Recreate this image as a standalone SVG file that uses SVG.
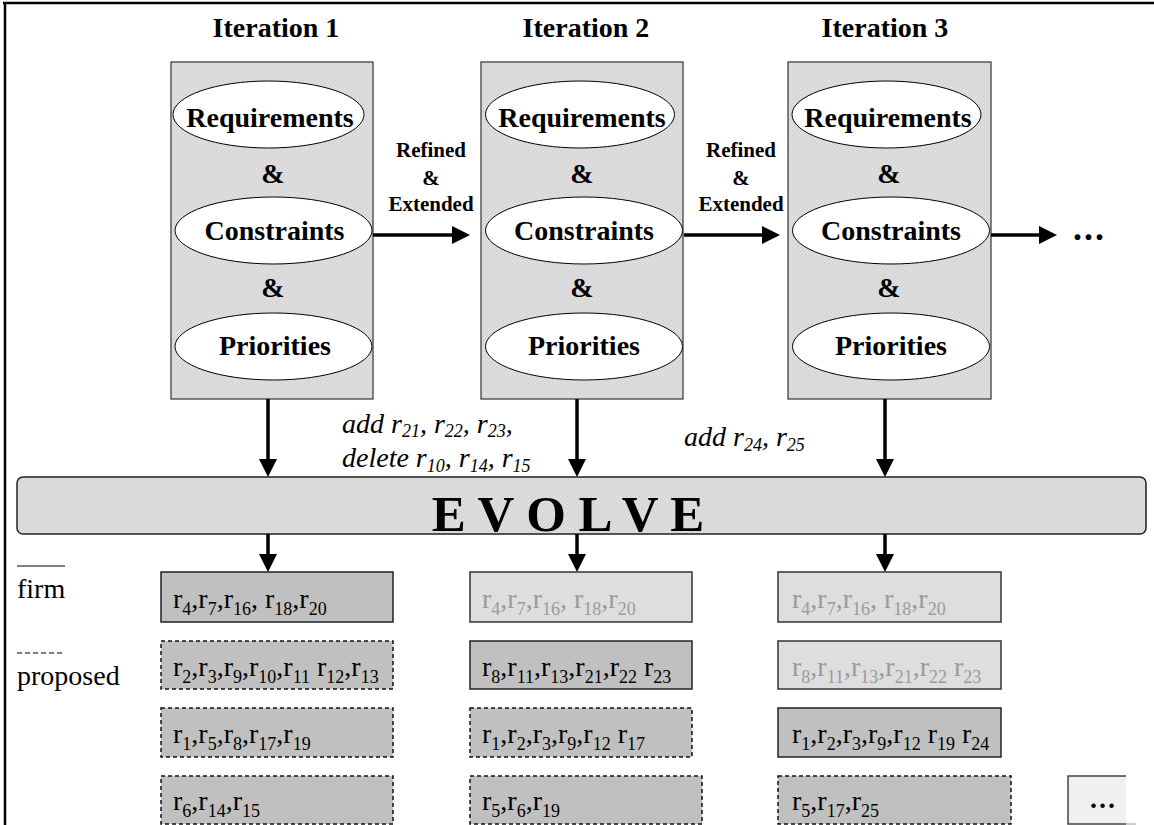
<svg xmlns="http://www.w3.org/2000/svg" width="1154" height="825" viewBox="0 0 1154 825">
<style>
text{font-family:"Liberation Serif","Times New Roman",serif;fill:#000}
.b{font-family:"Liberation Serif","Times New Roman",serif;font-weight:bold}
.it{font-family:"Liberation Serif","Times New Roman",serif;font-size:28px;font-weight:bold;text-anchor:middle}
.el{font-family:"Liberation Serif","Times New Roman",serif;font-size:28px;font-weight:bold;text-anchor:middle}
.lab{font-family:"Liberation Serif","Times New Roman",serif;font-size:21px;font-weight:bold;text-anchor:middle}
.box{fill:url(#hatch);stroke:#333;stroke-width:1.2}
.ell{fill:#fff;stroke:#000;stroke-width:1}
.conn{stroke:#000;stroke-width:3.5;fill:none;marker-end:url(#ah)}
.rt{font-family:"Liberation Serif","Times New Roman",serif;font-size:28px}
.s{font-size:18px}
.dk{fill:#c0c0c0;stroke:#222;stroke-width:1.5}
.dkd{fill:#c0c0c0;stroke:#111;stroke-width:1.5;stroke-dasharray:4 3}
.lt{fill:#dedede;stroke:#333;stroke-width:1.5}
.gt{fill:#9a9a9a}
.ital{font-family:"Liberation Serif","Times New Roman",serif;font-size:28px;font-style:italic}
.is{font-size:18px;font-style:italic}
</style>
<defs>
<pattern id="hatch" width="4" height="4" patternUnits="userSpaceOnUse">
<rect width="4" height="4" fill="#dedede"/>
<path d="M0,4 L4,0" stroke="#cdcdcd" stroke-width="0.8"/>
</pattern>
<marker id="ah" markerUnits="userSpaceOnUse" markerWidth="20" markerHeight="20" refX="8" refY="9" orient="auto">
<path d="M0,0 L18,9 L0,18 z" fill="#000"/>
</marker>
</defs>
<rect width="1154" height="825" fill="#fff"/>
<!-- frame -->
<path d="M3,3 H1154 M5,3 V825" stroke="#000" stroke-width="2.5" fill="none"/>

<!-- iteration 1 -->
<g id="iter1">
<text class="it" x="276" y="37">Iteration 1</text>
<rect class="box" x="171" y="62" width="202" height="337"/>
<ellipse class="ell" cx="268.5" cy="114.5" rx="95.5" ry="33.5"/>
<text class="el" x="270" y="127">Requirements</text>
<text class="el" x="273" y="183">&amp;</text>
<ellipse class="ell" cx="273.5" cy="230.5" rx="98.5" ry="33.5"/>
<text class="el" x="274.5" y="240">Constraints</text>
<text class="el" x="273" y="297">&amp;</text>
<ellipse class="ell" cx="273.5" cy="346.5" rx="98.5" ry="33.5"/>
<text class="el" x="275" y="355">Priorities</text>
</g>
<!-- iteration 2 -->
<g id="iter2">
<text class="it" x="586" y="37">Iteration 2</text>
<rect class="box" x="481" y="62" width="202" height="337"/>
<ellipse class="ell" cx="580" cy="114.5" rx="94.5" ry="33.5"/>
<text class="el" x="582" y="127">Requirements</text>
<text class="el" x="582" y="183">&amp;</text>
<ellipse class="ell" cx="584" cy="230.5" rx="98.5" ry="33.5"/>
<text class="el" x="584" y="240">Constraints</text>
<text class="el" x="582" y="297">&amp;</text>
<ellipse class="ell" cx="584" cy="346.5" rx="98.5" ry="33.5"/>
<text class="el" x="584" y="355">Priorities</text>
</g>
<!-- iteration 3 -->
<g id="iter3">
<text class="it" x="885" y="37">Iteration 3</text>
<rect class="box" x="788" y="62" width="203" height="337"/>
<ellipse class="ell" cx="886.5" cy="114.5" rx="94.5" ry="33.5"/>
<text class="el" x="888" y="127">Requirements</text>
<text class="el" x="889" y="183">&amp;</text>
<ellipse class="ell" cx="891" cy="230.5" rx="98.5" ry="33.5"/>
<text class="el" x="891" y="240">Constraints</text>
<text class="el" x="889" y="297">&amp;</text>
<ellipse class="ell" cx="891" cy="346.5" rx="98.5" ry="33.5"/>
<text class="el" x="891" y="355">Priorities</text>
</g>
<text class="b" x="1073" y="240" style="font-size:36px;letter-spacing:2px">...</text>

<!-- evolve -->
<g id="evolve">
<rect x="17" y="477" width="1129" height="57" rx="6" fill="url(#hatch)" stroke="#222" stroke-width="1.5"/>
<text class="b" x="568" y="531" text-anchor="middle" style="font-size:51px">E V O L V E</text>
</g>

<!-- connectors -->
<g id="connectors">
<path class="conn" d="M373,235 H460"/>
<path class="conn" d="M684,235 H770"/>
<path class="conn" d="M991,235 H1047"/>
<path class="conn" d="M268,399 V467"/>
<path class="conn" d="M577,399 V467"/>
<path class="conn" d="M885,399 V467"/>
<path class="conn" d="M268,534 V562"/>
<path class="conn" d="M577,534 V562"/>
<path class="conn" d="M885,534 V562"/>
<text class="lab" x="431" y="157">Refined</text>
<text class="lab" x="431" y="185">&amp;</text>
<text class="lab" x="431" y="211">Extended</text>
<text class="lab" x="741" y="157">Refined</text>
<text class="lab" x="741" y="185">&amp;</text>
<text class="lab" x="741" y="211">Extended</text>
<text class="ital" x="342" y="433">add r<tspan class="is" dy="4">21</tspan><tspan dy="-4">, r</tspan><tspan class="is" dy="4">22</tspan><tspan dy="-4">, r</tspan><tspan class="is" dy="4">23</tspan><tspan dy="-4">,</tspan></text>
<text class="ital" x="342" y="467">delete r<tspan class="is" dy="5">10</tspan><tspan dy="-5">, r</tspan><tspan class="is" dy="5">14</tspan><tspan dy="-5">, r</tspan><tspan class="is" dy="5">15</tspan></text>
<text class="ital" x="684" y="446">add r<tspan class="is" dy="5">24</tspan><tspan dy="-5">, r</tspan><tspan class="is" dy="5">25</tspan></text>
</g>

<!-- legend -->
<g id="legend">
<path d="M17,566 H65" stroke="#000" stroke-width="1"/>
<text class="rt" x="17" y="598">firm</text>
<path d="M17,653 H65" stroke="#000" stroke-width="1" stroke-dasharray="5 3"/>
<text class="rt" x="17" y="685">proposed</text>
</g>

<!-- column 1 -->
<g id="c1r1"><rect class="dk" x="161" y="572" width="232" height="50"/>
<text class="rt" x="173" y="608">r<tspan class="s" dy="7">4</tspan><tspan dy="-7">,r</tspan><tspan class="s" dy="7">7</tspan><tspan dy="-7">,r</tspan><tspan class="s" dy="7">16</tspan><tspan dy="-7">, r</tspan><tspan class="s" dy="7">18</tspan><tspan dy="-7">,r</tspan><tspan class="s" dy="7">20</tspan></text></g>
<g id="c1r2"><rect class="dkd" x="161" y="641" width="232" height="48"/>
<text class="rt" x="173" y="676">r<tspan class="s" dy="7">2</tspan><tspan dy="-7">,r</tspan><tspan class="s" dy="7">3</tspan><tspan dy="-7">,r</tspan><tspan class="s" dy="7">9</tspan><tspan dy="-7">,r</tspan><tspan class="s" dy="7">10</tspan><tspan dy="-7">,r</tspan><tspan class="s" dy="7">11</tspan><tspan dy="-7"> r</tspan><tspan class="s" dy="7">12</tspan><tspan dy="-7">,r</tspan><tspan class="s" dy="7">13</tspan></text></g>
<g id="c1r3"><rect class="dkd" x="161" y="708" width="232" height="49"/>
<text class="rt" x="173" y="743">r<tspan class="s" dy="7">1</tspan><tspan dy="-7">,r</tspan><tspan class="s" dy="7">5</tspan><tspan dy="-7">,r</tspan><tspan class="s" dy="7">8</tspan><tspan dy="-7">,r</tspan><tspan class="s" dy="7">17</tspan><tspan dy="-7">,r</tspan><tspan class="s" dy="7">19</tspan></text></g>
<g id="c1r4"><rect class="dkd" x="161" y="776" width="232" height="48"/>
<text class="rt" x="173" y="810">r<tspan class="s" dy="7">6</tspan><tspan dy="-7">,r</tspan><tspan class="s" dy="7">14</tspan><tspan dy="-7">,r</tspan><tspan class="s" dy="7">15</tspan></text></g>

<!-- column 2 -->
<g id="c2r1"><rect class="lt" x="470" y="572" width="222" height="50"/>
<text class="rt gt" x="482" y="608">r<tspan class="s" dy="7">4</tspan><tspan dy="-7">,r</tspan><tspan class="s" dy="7">7</tspan><tspan dy="-7">,r</tspan><tspan class="s" dy="7">16</tspan><tspan dy="-7">, r</tspan><tspan class="s" dy="7">18</tspan><tspan dy="-7">,r</tspan><tspan class="s" dy="7">20</tspan></text></g>
<g id="c2r2"><rect class="dk" x="470" y="641" width="222" height="48"/>
<text class="rt" x="482" y="676">r<tspan class="s" dy="7">8</tspan><tspan dy="-7">,r</tspan><tspan class="s" dy="7">11</tspan><tspan dy="-7">,r</tspan><tspan class="s" dy="7">13</tspan><tspan dy="-7">,r</tspan><tspan class="s" dy="7">21</tspan><tspan dy="-7">,r</tspan><tspan class="s" dy="7">22</tspan><tspan dy="-7"> r</tspan><tspan class="s" dy="7">23</tspan></text></g>
<g id="c2r3"><rect class="dkd" x="470" y="708" width="222" height="49"/>
<text class="rt" x="482" y="743">r<tspan class="s" dy="7">1</tspan><tspan dy="-7">,r</tspan><tspan class="s" dy="7">2</tspan><tspan dy="-7">,r</tspan><tspan class="s" dy="7">3</tspan><tspan dy="-7">,r</tspan><tspan class="s" dy="7">9</tspan><tspan dy="-7">,r</tspan><tspan class="s" dy="7">12</tspan><tspan dy="-7"> r</tspan><tspan class="s" dy="7">17</tspan></text></g>
<g id="c2r4"><rect class="dkd" x="470" y="776" width="232" height="48"/>
<text class="rt" x="482" y="810">r<tspan class="s" dy="7">5</tspan><tspan dy="-7">,r</tspan><tspan class="s" dy="7">6</tspan><tspan dy="-7">,r</tspan><tspan class="s" dy="7">19</tspan></text></g>

<!-- column 3 -->
<g id="c3r1"><rect class="lt" x="778" y="572" width="223" height="50"/>
<text class="rt gt" x="792" y="608">r<tspan class="s" dy="7">4</tspan><tspan dy="-7">,r</tspan><tspan class="s" dy="7">7</tspan><tspan dy="-7">,r</tspan><tspan class="s" dy="7">16</tspan><tspan dy="-7">, r</tspan><tspan class="s" dy="7">18</tspan><tspan dy="-7">,r</tspan><tspan class="s" dy="7">20</tspan></text></g>
<g id="c3r2"><rect class="lt" x="778" y="641" width="223" height="48"/>
<text class="rt gt" x="792" y="676">r<tspan class="s" dy="7">8</tspan><tspan dy="-7">,r</tspan><tspan class="s" dy="7">11</tspan><tspan dy="-7">,r</tspan><tspan class="s" dy="7">13</tspan><tspan dy="-7">,r</tspan><tspan class="s" dy="7">21</tspan><tspan dy="-7">,r</tspan><tspan class="s" dy="7">22</tspan><tspan dy="-7"> r</tspan><tspan class="s" dy="7">23</tspan></text></g>
<g id="c3r3"><rect class="dk" x="778" y="708" width="223" height="49"/>
<text class="rt" x="792" y="743">r<tspan class="s" dy="7">1</tspan><tspan dy="-7">,r</tspan><tspan class="s" dy="7">2</tspan><tspan dy="-7">,r</tspan><tspan class="s" dy="7">3</tspan><tspan dy="-7">,r</tspan><tspan class="s" dy="7">9</tspan><tspan dy="-7">,r</tspan><tspan class="s" dy="7">12</tspan><tspan dy="-7"> r</tspan><tspan class="s" dy="7">19</tspan><tspan dy="-7"> r</tspan><tspan class="s" dy="7">24</tspan></text></g>
<g id="c3r4"><rect class="dkd" x="778" y="776" width="233" height="48"/>
<text class="rt" x="792" y="810">r<tspan class="s" dy="7">5</tspan><tspan dy="-7">,r</tspan><tspan class="s" dy="7">17</tspan><tspan dy="-7">,r</tspan><tspan class="s" dy="7">25</tspan></text></g>

<!-- more -->
<g id="more">
<rect x="1068" y="776" width="58" height="48" fill="#f0f0f0"/>
<path d="M1126,776 H1068 V824 H1126" fill="none" stroke="#444" stroke-width="1.5"/>
<path d="M1126,824 H1136" stroke="#bbb" stroke-width="1.5"/>
<text class="b" x="1090" y="808" style="font-size:28px;letter-spacing:2px">...</text>
</g>
</svg>
